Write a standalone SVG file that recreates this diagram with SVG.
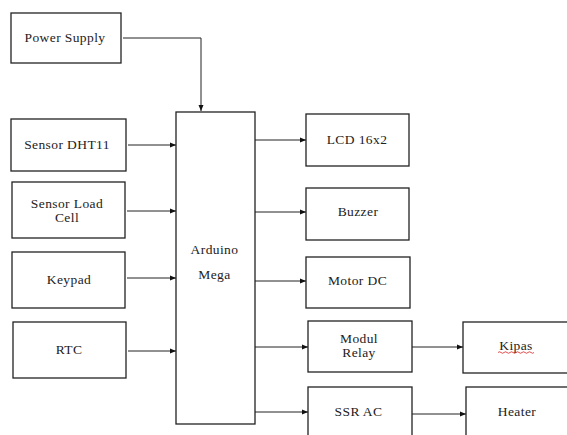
<svg xmlns="http://www.w3.org/2000/svg" width="567" height="435" viewBox="0 0 567 435">
<style>
.box{fill:#fff;stroke:#222;stroke-width:1.3}
.t{font-family:"Liberation Serif","Times New Roman",serif;font-size:13.5px;letter-spacing:0.4px;fill:#222;text-anchor:middle}
.c{fill:none;stroke:#222;stroke-width:1}
</style>
<defs>
<marker id="ah" viewBox="0 0 6 6" refX="6" refY="3" markerWidth="6" markerHeight="6" markerUnits="userSpaceOnUse" orient="auto">
<path d="M0,0.5 L6,3 L0,5.5 Z" fill="#111"/>
</marker>
</defs>
<rect width="567" height="435" fill="#fff"/>
<g id="connectors">
<path class="c" d="M123,38 H201 V111" marker-end="url(#ah)"/>
<path class="c" d="M128,145 H176" marker-end="url(#ah)"/>
<path class="c" d="M127,211 H176" marker-end="url(#ah)"/>
<path class="c" d="M127,278 H176" marker-end="url(#ah)"/>
<path class="c" d="M128,351 H176" marker-end="url(#ah)"/>
<path class="c" d="M255,140 H306" marker-end="url(#ah)"/>
<path class="c" d="M255,212 H306" marker-end="url(#ah)"/>
<path class="c" d="M255,281 H306" marker-end="url(#ah)"/>
<path class="c" d="M255,347 H308" marker-end="url(#ah)"/>
<path class="c" d="M255,412 H308" marker-end="url(#ah)"/>
<path class="c" d="M412,347 H463" marker-end="url(#ah)"/>
<path class="c" d="M412,414 H466" marker-end="url(#ah)"/>
</g>
<g id="power-supply"><rect class="box" x="11" y="13" width="110" height="50"/><text class="t" x="65" y="42">Power Supply</text></g>
<g id="sensor-dht11"><rect class="box" x="11" y="119" width="115" height="52"/><text class="t" x="67" y="149">Sensor DHT11</text></g>
<g id="sensor-load-cell"><rect class="box" x="12" y="182" width="113" height="56"/><text class="t" x="67" y="208">Sensor Load</text><text class="t" x="67" y="222">Cell</text></g>
<g id="keypad"><rect class="box" x="12" y="252" width="113" height="56"/><text class="t" x="69" y="284">Keypad</text></g>
<g id="rtc"><rect class="box" x="13" y="322" width="113" height="56"/><text class="t" x="69" y="354">RTC</text></g>
<g id="arduino-mega"><rect class="box" x="176" y="112" width="79" height="312"/><text class="t" x="214.5" y="254">Arduino</text><text class="t" x="214.5" y="279">Mega</text></g>
<g id="lcd"><rect class="box" x="306" y="114" width="103" height="52"/><text class="t" x="357" y="144">LCD 16x2</text></g>
<g id="buzzer"><rect class="box" x="306" y="188" width="103" height="52"/><text class="t" x="358" y="216">Buzzer</text></g>
<g id="motor-dc"><rect class="box" x="306" y="257" width="104" height="51"/><text class="t" x="357.5" y="285">Motor DC</text></g>
<g id="modul-relay"><rect class="box" x="308" y="321" width="104" height="51"/><text class="t" x="359" y="343">Modul</text><text class="t" x="359" y="357">Relay</text></g>
<g id="kipas"><rect class="box" x="463" y="322" width="110" height="51"/><text class="t" x="516" y="350">Kipas</text><path d="M498,352.5 q1.5,-1.5 3,0 t3,0 t3,0 t3,0 t3,0 t3,0 t3,0 t3,0 t3,0 t3,0 t3,0 t3,0" fill="none" stroke="#d22" stroke-width="0.8"/></g>
<g id="ssr-ac"><rect class="box" x="308" y="387" width="104" height="55"/><text class="t" x="358.5" y="416">SSR AC</text></g>
<g id="heater"><rect class="box" x="466" y="387" width="110" height="55"/><text class="t" x="517" y="416">Heater</text></g>
</svg>
